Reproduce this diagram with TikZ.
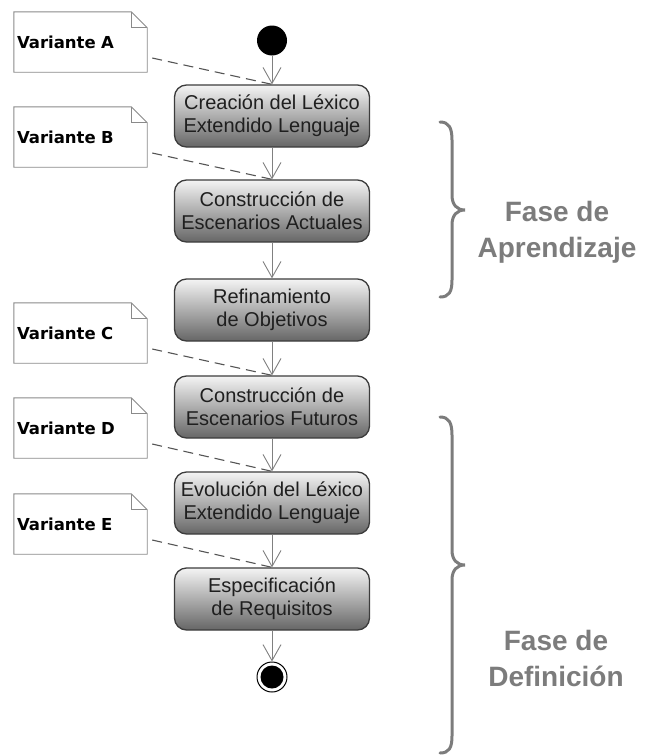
\documentclass[tikz,border=0pt]{standalone}
\usepackage{fontspec}
\setmainfont{Liberation Sans}
\newfontfamily\notefamily{DejaVu Sans}
\usetikzlibrary{arrows.meta,backgrounds}
\definecolor{boxtop}{HTML}{F4F4F4}
\definecolor{boxbot}{HTML}{666666}
\definecolor{boxline}{HTML}{3C3C3C}
\definecolor{flowline}{HTML}{808080}
\definecolor{noteline}{HTML}{8A8A8A}
\definecolor{linkline}{HTML}{555555}
\definecolor{phasegray}{HTML}{7C7C7C}
\begin{document}
\begin{tikzpicture}[x=1pt,y=-1pt,
  activity/.style={rectangle, rounded corners=12pt, draw=boxline, line width=1.3pt,
    top color=boxtop, bottom color=boxbot, minimum width=195pt, minimum height=62pt,
    inner sep=0pt, align=center, text=black!88,
    font=\fontsize{20}{23}\selectfont},
  note/.style={text width=127pt, inner xsep=3pt, inner ysep=0pt, minimum height=60pt,
    align=left, font=\notefamily\bfseries\fontsize{16.5}{20}\selectfont},
  notedraw/.style={draw=noteline, line width=0.9pt, fill=white},
  flow/.style={draw=flowline, line width=0.9pt,
    -{Straight Barb[length=16pt, width=18pt, line width=0.9pt]}},
  notelink/.style={draw=linkline, line width=1.1pt, dash pattern=on 10pt off 6pt},
  phasebrace/.style={draw=phasegray, line width=3pt, line cap=round},
  phase/.style={text=phasegray, align=center,
    font=\bfseries\fontsize{28}{36}\selectfont}
]
\useasboundingbox (0,0) rectangle (645,755);

% notes with folded corner
\node[note] (na) at (80.5,42)  {Variante A};
\node[note] (nb) at (80.5,137) {Variante B};
\node[note] (nc) at (80.5,333) {Variante C};
\node[note] (nd) at (80.5,428) {Variante D};
\node[note] (ne) at (80.5,524) {Variante E};
\begin{scope}[on background layer]
\foreach \n in {na,nb,nc,nd,ne}{
  \draw[notedraw] (\n.north west) -- ([xshift=-16pt]\n.north east)
    -- ([yshift=-16pt]\n.north east) -- (\n.south east) -- (\n.south west) -- cycle;
  \draw[notedraw, fill=none] ([xshift=-16pt]\n.north east) |- ([yshift=-16pt]\n.north east);
}
\end{scope}

% initial and final states
\node[circle, fill=black, minimum size=30pt, inner sep=0pt] (start) at (272,40.5) {};
\node[circle, draw=black, line width=1pt, fill=white, minimum size=30pt, inner sep=0pt] (end) at (272,677) {};
\node[circle, fill=black, minimum size=23pt, inner sep=0pt] (endcore) at (end) {};

% activities
\node[activity] (b1) at (272,116) {Creación del Léxico\\Extendido Lenguaje};
\node[activity] (b2) at (272,211) {Construcción de\\Escenarios Actuales};
\node[activity] (b3) at (272,310) {Refinamiento\\de Objetivos};
\node[activity] (b4) at (272,407) {Construcción de\\Escenarios Futuros};
\node[activity] (b5) at (272,503) {Evolución del Léxico\\Extendido Lenguaje};
\node[activity] (b6) at (272,599) {Especificación\\de Requisitos};

% control flow
\draw[flow] (start) -- (b1);
\draw[flow] (b1) -- (b2);
\draw[flow] (b2) -- (b3);
\draw[flow] (b3) -- (b4);
\draw[flow] (b4) -- (b5);
\draw[flow] (b5) -- (b6);
\draw[flow] (b6) -- (end);

% note attachments
\draw[notelink] ([xshift=5pt,yshift=-16pt]na.east) -- (b1.north);
\draw[notelink] ([xshift=5pt,yshift=-16pt]nb.east) -- (b2.north);
\draw[notelink] ([xshift=5pt,yshift=-16pt]nc.east) -- (b4.north);
\draw[notelink] ([xshift=5pt,yshift=-16pt]nd.east) -- (b5.north);
\draw[notelink] ([xshift=5pt,yshift=-16pt]ne.east) -- (b6.north);

% phase braces
\draw[phasebrace] (440,122) .. controls (449,122) and (452,128) .. (452,140)
  -- (452,195) .. controls (452,205) and (457,210) .. (465,210)
  .. controls (457,210) and (452,215) .. (452,225)
  -- (452,280) .. controls (452,292) and (449,297) .. (440,297);
\draw[phasebrace] (440,417) .. controls (449,417) and (452,423) .. (452,435)
  -- (452,550) .. controls (452,560) and (457,565) .. (465,565)
  .. controls (457,565) and (452,570) .. (452,580)
  -- (452,736) .. controls (452,748) and (449,753) .. (440,753);

\node[phase] (pa) at (557,232) {Fase de\\Aprendizaje};
\node[phase] (pd) at (556,658) {Fase de\\Definición};
\end{tikzpicture}
\end{document}
